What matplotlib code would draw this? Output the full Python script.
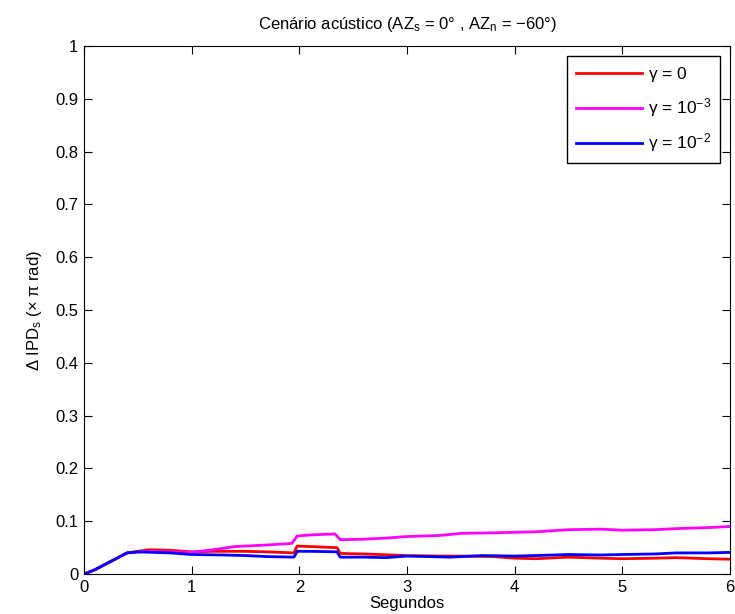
import matplotlib
matplotlib.use("Agg")
import matplotlib.pyplot as plt

plt.rcParams["font.family"] = ["Liberation Sans", "DejaVu Sans"]
plt.rcParams["mathtext.fontset"] = "custom"
plt.rcParams["mathtext.rm"] = "Liberation Sans"
plt.rcParams["mathtext.it"] = "Liberation Sans"

# values (time in s, delta IPD in x pi rad)
t_red = [0, 0.1, 0.4, 0.6, 0.8, 1.0, 1.2, 1.5, 1.7, 1.95, 1.98, 2.1, 2.35, 2.38, 2.6, 3.0,
         3.3, 3.5, 3.8, 4.0, 4.2, 4.5, 4.8, 5.0, 5.3, 5.5, 5.8, 6.0]
ipd_red = [0, 0.008, 0.040, 0.046, 0.045, 0.042, 0.043, 0.043, 0.042, 0.040, 0.053, 0.052,
           0.050, 0.039, 0.038, 0.035, 0.034, 0.034, 0.033, 0.030, 0.029, 0.032, 0.030, 0.029,
           0.030, 0.031, 0.029, 0.028]

t_mag = [0, 0.1, 0.4, 0.6, 1.0, 1.2, 1.4, 1.7, 1.93, 1.98, 2.1, 2.33, 2.38, 2.6, 2.8, 3.0,
         3.3, 3.5, 3.8, 4.0, 4.2, 4.5, 4.8, 5.0, 5.3, 5.5, 5.8, 6.0]
ipd_mag = [0, 0.008, 0.040, 0.043, 0.041, 0.046, 0.052, 0.055, 0.058, 0.072, 0.074, 0.076,
           0.065, 0.066, 0.068, 0.071, 0.073, 0.077, 0.078, 0.079, 0.080, 0.084, 0.085, 0.083,
           0.084, 0.086, 0.088, 0.090]

t_blue = [0, 0.1, 0.4, 0.5, 0.8, 1.0, 1.3, 1.5, 1.7, 1.95, 1.98, 2.1, 2.35, 2.38, 2.6, 2.8,
          3.0, 3.2, 3.4, 3.7, 4.0, 4.2, 4.5, 4.8, 5.0, 5.3, 5.5, 5.8, 6.0]
ipd_blue = [0, 0.008, 0.040, 0.042, 0.040, 0.037, 0.036, 0.035, 0.033, 0.032, 0.043, 0.043,
            0.042, 0.032, 0.032, 0.031, 0.034, 0.033, 0.032, 0.035, 0.034, 0.035, 0.037, 0.036,
            0.037, 0.038, 0.040, 0.040, 0.041]

labels = [r"$\gamma$ = 0", r"$\gamma$ = 10$^{-3}$", r"$\gamma$ = 10$^{-2}$"]

fig = plt.figure(figsize=(7.35, 6.14), dpi=100)
ax = fig.add_axes([0.1143, 0.0651, 0.8789, 0.8599])

ax.plot(t_red, ipd_red, color="#ff0000", lw=2, label=labels[0])
ax.plot(t_mag, ipd_mag, color="#ff00ff", lw=2, label=labels[1])
ax.plot(t_blue, ipd_blue, color="#0000ff", lw=2, label=labels[2])

ax.set_xlim(0, 6)
ax.set_ylim(0, 1)
ax.set_xticks(range(0, 7))
ax.set_yticks([i / 10 for i in range(11)])
ax.set_yticklabels(["0", "0.1", "0.2", "0.3", "0.4", "0.5", "0.6", "0.7", "0.8", "0.9", "1"])
ax.tick_params(direction="in", top=True, right=True, labelsize=12, length=6, pad=4)

ax.set_xlabel("Segundos", fontsize=12, labelpad=1)
ax.set_ylabel(r"$\Delta$ IPD$_s$ ($\times$ $\pi$ rad)", fontsize=12, labelpad=8)
ax.set_title(r"Cenário acústico (AZ$_s$ = 0° , AZ$_n$ = −60°)", fontsize=12, pad=12)

leg = ax.legend(loc="upper right", fontsize=12.5, fancybox=False, framealpha=1,
                edgecolor="black", handlelength=3.8, handletextpad=0.35,
                labelspacing=0.7, borderaxespad=0.6, borderpad=0.5)
leg.get_frame().set_linewidth(1)

fig.savefig("out.png", dpi=100)
